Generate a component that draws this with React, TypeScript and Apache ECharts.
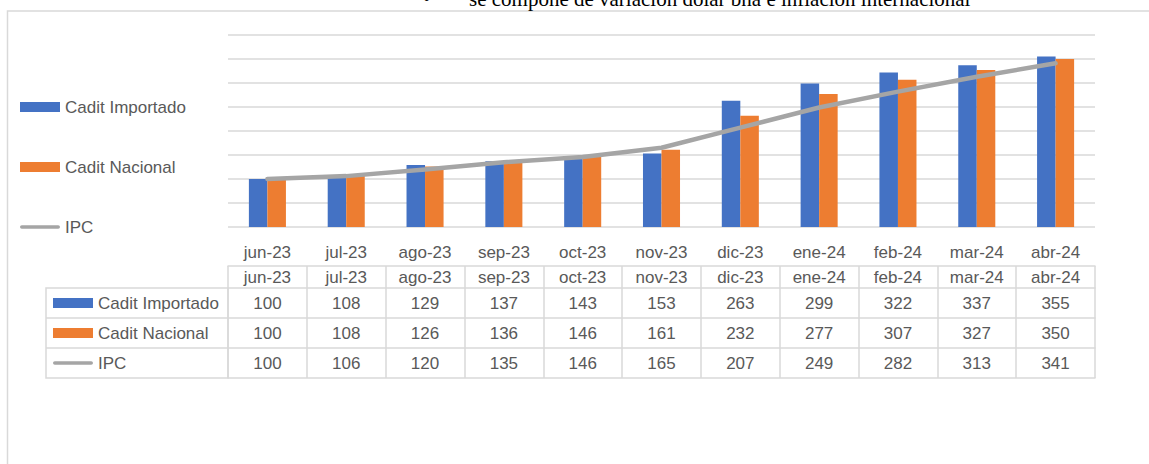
import React, { useEffect, useRef } from "react";
import * as echarts from "echarts";

const categories = ["jun-23", "jul-23", "ago-23", "sep-23", "oct-23", "nov-23", "dic-23", "ene-24", "feb-24", "mar-24", "abr-24"];
const importado = [100, 108, 129, 137, 143, 153, 263, 299, 322, 337, 355];
const nacional = [100, 108, 126, 136, 146, 161, 232, 277, 307, 327, 350];
const ipc = [100, 106, 120, 135, 146, 165, 207, 249, 282, 313, 341];
const seriesNames = ["Cadit Importado", "Cadit Nacional", "IPC"];
const noteText = "se compone de variación dólar bna e inflación internacional";

const FONT = "Liberation Sans";
const TXT = "#595959";
const LINE = "#D9D9D9";
const BLUE = "#4472C4";
const ORANGE = "#ED7D31";
const GRAY = "#A5A5A5";
const FS = 17;

const ipcIcon = "path://M2,0 L42,0 A2,2 0 0 1 42,4 L2,4 A2,2 0 0 1 2,0 Z";

function tableAxis(offset: number, data: string[], showLabel: boolean, tickLen: number, margin: number) {
  return {
    type: "category",
    data,
    position: "bottom",
    offset,
    boundaryGap: true,
    axisLine: { show: true, lineStyle: { color: LINE, width: 1.5 } },
    axisTick: { show: tickLen > 0, interval: 0, length: tickLen, inside: false, lineStyle: { color: LINE, width: 1.5 } },
    axisLabel: { show: showLabel, interval: 0, margin, color: TXT, fontFamily: FONT, fontSize: FS, lineHeight: 20 },
    splitLine: { show: false },
  };
}

export default function App() {
  const ref = useRef<HTMLDivElement>(null);
  useEffect(() => {
    if (!ref.current) return;
    const chart = echarts.init(ref.current, null, { renderer: "svg" });
    const legendText = { color: TXT, fontFamily: FONT, fontSize: FS, lineHeight: 20 };
    const legendData = [
      { name: seriesNames[0], icon: "rect" },
      { name: seriesNames[1], icon: "rect" },
      { name: seriesNames[2], icon: ipcIcon },
    ];
    chart.setOption({
      animation: false,
      legend: [
        {
          orient: "vertical", left: 20, top: 97, itemWidth: 40, itemHeight: 10, itemGap: 40,
          selectedMode: false, textStyle: legendText, data: legendData, padding: 0,
        },
        {
          orient: "vertical", left: 53, top: 293, itemWidth: 40, itemHeight: 10, itemGap: 10,
          selectedMode: false, textStyle: legendText, data: legendData, padding: 0,
        },
      ],
      grid: { left: 228, right: 54, top: 35, bottom: 237, containLabel: false },
      xAxis: [
        {
          type: "category", data: categories, position: "bottom", boundaryGap: true,
          axisLine: { show: false }, axisTick: { show: false },
          axisLabel: { interval: 0, margin: 15, color: TXT, fontFamily: FONT, fontSize: FS, lineHeight: 20 },
        },
        tableAxis(39, categories, true, 22, 1),
        tableAxis(61, importado.map(String), true, 30, 5),
        tableAxis(91, nacional.map(String), true, 30, 5),
        tableAxis(121, ipc.map(String), true, 30, 5),
        tableAxis(151, categories, false, 0, 5),
      ],
      yAxis: {
        type: "value", min: 0, max: 400, interval: 50,
        axisLabel: { show: false }, axisLine: { show: false }, axisTick: { show: false },
        splitLine: { lineStyle: { color: LINE, width: 1.5 } },
      },
      series: [
        {
          name: seriesNames[0], type: "bar", data: importado, xAxisIndex: 0,
          barGap: "0%", barCategoryGap: "53%", itemStyle: { color: BLUE },
        },
        {
          name: seriesNames[1], type: "bar", data: nacional, xAxisIndex: 0,
          barGap: "0%", barCategoryGap: "53%", itemStyle: { color: ORANGE },
        },
        {
          name: seriesNames[2], type: "line", data: ipc, xAxisIndex: 0, symbol: "none",
          itemStyle: { color: GRAY }, lineStyle: { color: GRAY, width: 4.5, cap: "round", join: "round" },
        },
      ],
      graphic: [
        { type: "rect", shape: { x: 7.5, y: 11, width: 1300, height: 600 }, style: { fill: "none", stroke: LINE, lineWidth: 1.5 }, silent: true },
        { type: "rect", shape: { x: 46, y: 288, width: 182, height: 90 }, style: { fill: "none", stroke: LINE, lineWidth: 1.5 }, silent: true },
        { type: "line", shape: { x1: 46, y1: 318, x2: 228, y2: 318 }, style: { stroke: LINE, lineWidth: 1.5 }, silent: true },
        { type: "line", shape: { x1: 46, y1: 348, x2: 228, y2: 348 }, style: { stroke: LINE, lineWidth: 1.5 }, silent: true },
        { type: "text", x: 423, y: -1, style: { text: "•", font: "21px 'Liberation Serif'", fill: "#000", verticalAlign: "middle" } },
        { type: "text", x: 469, y: -1, style: { text: noteText, font: "21px 'Liberation Serif'", fill: "#000", verticalAlign: "middle" } },
      ],
    });
    return () => chart.dispose();
  }, []);
  return <div ref={ref} style={{ position: "absolute", left: 0, top: 0, width: 1149, height: 464 }} />;
}
